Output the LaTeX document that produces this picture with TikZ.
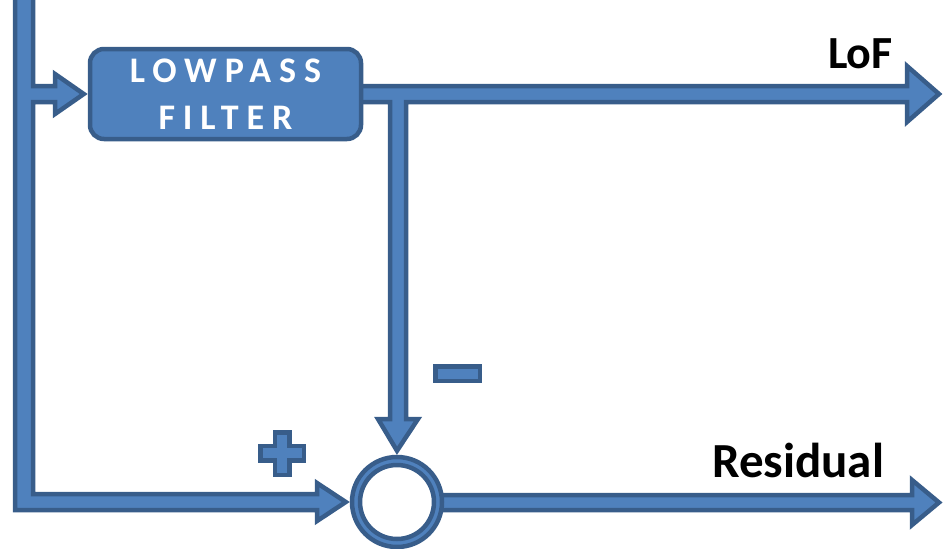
\documentclass[tikz,border=0pt]{standalone}
\usepackage{fontspec}
\setmainfont{Carlito}
\newfontfamily\spacedfont[LetterSpace=22,UprightFont={* Bold},BoldFont={* Bold}]{Carlito}
\usetikzlibrary{calc,backgrounds}
\definecolor{bfill}{HTML}{4F81BD}
\definecolor{bline}{HTML}{385D8A}
\tikzset{
  blockarrow/.style={fill=bfill, draw=bline, line width=4.5pt, line join=miter},
  filterbox/.style={blockarrow, rounded corners=14pt, minimum width=271pt, minimum height=90pt,
    inner sep=0pt, text=white, align=center, font=\spacedfont\fontsize{36}{47}\selectfont},
  ring/.style={circle, fill=bfill, draw=bline, line width=4.5pt, minimum size=90pt, inner sep=0pt},
  hole/.style={circle, fill=white, draw=bline, line width=4.5pt, minimum size=74pt, inner sep=0pt},
  lbl/.style={inner sep=0pt, text=black},
}
\begin{document}
\begin{tikzpicture}[x=1pt,y=-1pt]
\useasboundingbox (0,0) rectangle (943,549);
% main nodes
\node[filterbox] (filter) at (225.5,94) {LOWPASS\\FILTER};
\node[ring] (sum) at (397,502) {};
\node[hole] (suminner) at (sum.center) {};
\coordinate (lofend) at (939,94);
\coordinate (resend) at (939,502.5);
% labels
\node[lbl, anchor=base west, font=\bfseries\fontsize{46}{52}\selectfont] (loflbl) at (828,68) {LoF};
\node[lbl, anchor=base west, font=\bfseries\fontsize{49}{55}\selectfont] (reslbl) at (712,477) {Residual};
% plus and minus signs
\draw[blockarrow] (274.75,432.25) -- (289.25,432.25) -- (289.25,446) -- (303.75,446) -- (303.75,460.5)
  -- (289.25,460.5) -- (289.25,474.75) -- (274.75,474.75) -- (274.75,460.5) -- (260.25,460.5)
  -- (260.25,446) -- (274.75,446) -- cycle;
\draw[blockarrow] (435.25,366.25) rectangle (479.75,380.75);
% block arrows (behind nodes)
\begin{scope}[on background layer]
  % input line with branch to filter and to summing point
  \draw[blockarrow] (15,-10) -- (15,510) -- (317,510) -- (317,521) -- ($(sum.west)+(-4,0)$)
    -- (317,483) -- (317,494) -- (33,494) -- (33,102) -- (55,102) -- (55,114)
    -- ($(filter.west)+(-4,0)$) -- (55,74) -- (55,86) -- (33,86) -- (33,-10) -- cycle;
  % filter output: LoF and branch down to summing point
  \draw[blockarrow] ($(filter.east)+(-8,-8)$) -- (907,86) -- (907,66) -- (lofend) -- (907,122)
    -- (907,102) -- (406,102) -- (406,419) -- (418,419) -- ($(sum.north)+(0,-4)$)
    -- (378,419) -- (390,419) -- (390,102) -- ($(filter.east)+(-8,8)$) -- cycle;
  % residual output
  \draw[blockarrow] (430,495) -- (912,495) -- (912,480) -- (resend) -- (912,525) -- (912,510)
    -- (430,510) -- cycle;
\end{scope}
\end{tikzpicture}
\end{document}
